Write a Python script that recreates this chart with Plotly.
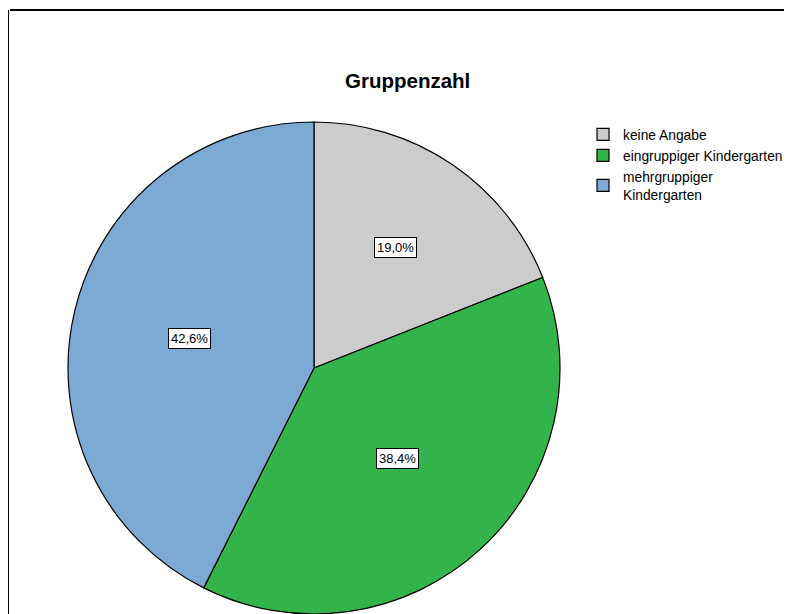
import math
import plotly.graph_objects as go

categories = ["keine Angabe", "eingruppiger Kindergarten", "mehrgruppiger<br>Kindergarten"]
percent_values = [19.0, 38.4, 42.6]
percent_labels = ["19,0%", "38,4%", "42,6%"]
slice_colors = ["#CCCCCC", "#33B44A", "#7DA9D5"]
title_text = "Gruppenzahl"

W, H = 792, 614
OFF = 8  # page body margin offset
cx, cy, r = 314 - OFF, 368 - OFF, 246
label_radius = [0.59, 0.50, 0.52]
FONT = "Liberation Sans, Arial, sans-serif"

def px(x):
    return x / W

def py(y):
    return 1 - y / H

fig = go.Figure()
fig.add_trace(go.Pie(
    labels=categories,
    values=percent_values,
    sort=False,
    direction="clockwise",
    rotation=0,
    marker=dict(colors=slice_colors, line=dict(color="black", width=1.2)),
    textinfo="none",
    hoverinfo="label+percent",
    domain=dict(x=[px(cx - r), px(cx + r)], y=[py(cy + r), py(cy - r)]),
))

total = sum(percent_values)
acc = 0.0
annotations = []
for v, lab, d in zip(percent_values, percent_labels, label_radius):
    mid = (acc + v / 2) / total
    acc += v
    th = 2 * math.pi * mid
    lx = cx + d * r * math.sin(th)
    ly = cy - d * r * math.cos(th)
    annotations.append(dict(
        x=px(lx), y=py(ly), xref="paper", yref="paper",
        text=lab, showarrow=False,
        font=dict(family=FONT, size=13, color="black"),
        bgcolor="white", bordercolor="black", borderwidth=1, borderpad=2,
        xanchor="center", yanchor="middle",
    ))

annotations.append(dict(
    x=px(407 - OFF), y=py(80 - OFF), xref="paper", yref="paper",
    text="<b>" + title_text + "</b>", showarrow=False,
    font=dict(family=FONT, size=20.5, color="black"),
    xanchor="center", yanchor="middle",
))

fig.update_layout(
    width=W, height=H,
    margin=dict(l=0, r=0, t=0, b=0),
    paper_bgcolor="white",
    plot_bgcolor="white",
    annotations=annotations,
    showlegend=True,
    legend=dict(
        x=px(575), y=py(111), xanchor="left", yanchor="top",
        font=dict(family=FONT, size=13.8, color="black"),
        bgcolor="rgba(0,0,0,0)",
        tracegroupgap=0,
        itemclick=False, itemdoubleclick=False,
    ),
    shapes=[
        dict(type="line", xref="paper", yref="paper",
             x0=px(10 - OFF), y0=py(10 - OFF), x1=1.01, y1=py(10 - OFF),
             line=dict(color="black", width=2)),
        dict(type="line", xref="paper", yref="paper",
             x0=px(8 - OFF), y0=py(10 - OFF), x1=px(8 - OFF), y1=-0.01,
             line=dict(color="black", width=2)),
    ],
)

fig.write_html("out.html")
